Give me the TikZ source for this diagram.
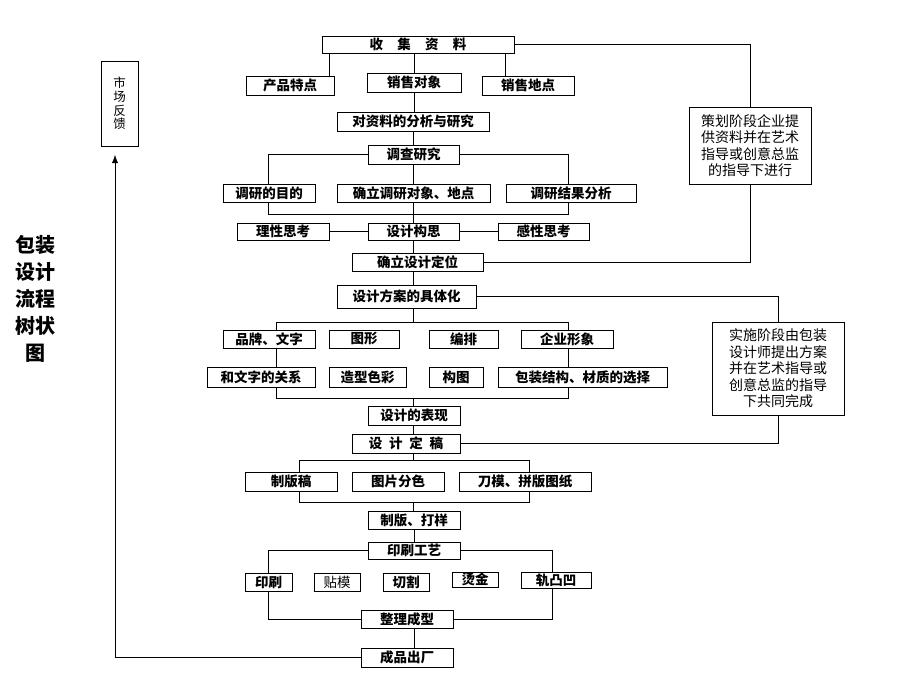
\documentclass[tikz,border=0pt]{standalone}
\usepackage{fontspec}
\setmainfont{Noto Sans CJK SC}
\usetikzlibrary{arrows.meta,backgrounds}

\begin{document}
\begin{tikzpicture}[x=1pt, y=-1pt, line width=0.8pt,
  box/.style={draw, fill=white, inner sep=0pt, minimum width=92, minimum height=19,
    font=\bfseries\fontsize{13.5}{15}\selectfont},
  note/.style={draw, fill=white, inner sep=0pt, align=center,
    font=\fontsize{14}{16.5}\selectfont}]

  \useasboundingbox (0,0) rectangle (920,690);

  \node [font=\bfseries\fontsize{20}{27}\selectfont, align=center] (title) at (35,299) {包装\\设计\\流程\\树状\\图};
  \node [draw, minimum width=37, minimum height=85, inner sep=0pt, align=center,
    font=\fontsize{12.5}{13.8}\selectfont] (market) at (119.5,103.5) {市\\场\\反\\馈};

  % collecting
  \node [box, minimum width=192, minimum height=17] (collect) at (418,44.5) {收\hspace{1.05em}集\hspace{1.05em}资\hspace{1.05em}料};
  \node [box, minimum width=88] (pk) at (290,85.5) {产品特点};
  \node [box, minimum width=94] (target) at (414,82.5) {销售对象};
  \node [box] (place) at (528,85.5) {销售地点};
  \node [box, minimum width=152] (analyse) at (413,121.5) {对资料的分析与研究};
  \node [note, minimum width=122, minimum height=77] (plan) at (750,145.5) {策划阶段企业提\\供资料并在艺术\\指导或创意总监\\的指导下进行};

  % survey
  \node [box, minimum width=91] (survey) at (413.5,154.5) {调查研究};
  \node [box, minimum height=18] (aim) at (269,193) {调研的目的};
  \node [box, minimum width=153, minimum height=18] (object) at (413.5,193) {确立调研对象、地点};
  \node [box, minimum width=130, minimum height=18] (result) at (571,193) {调研结果分析};
  \node [box, minimum width=91, minimum height=17] (concept) at (413.5,231.5) {设计构思};
  \node [box, minimum height=17] (rational) at (283,231.5) {理性思考};
  \node [box, minimum width=91, minimum height=17] (emotion) at (543.5,231.5) {感性思考};
  \node [box, minimum width=131, minimum height=18] (position) at (417.5,262) {确立设计定位};

  % design
  \node [box, minimum width=139, minimum height=23] (detail) at (406.5,296.5) {设计方案的具体化};
  \node [box, minimum height=18] (brand) at (269,339) {品牌、文字};
  \node [box, minimum width=70, minimum height=18] (graph) at (364,339) {图形};
  \node [box, minimum width=69, minimum height=18] (arrange) at (463.5,339) {编排};
  \node [box, minimum height=18] (corp) at (567,339) {企业形象};
  \node [box, minimum width=108, minimum height=20] (relation) at (261,377) {和文字的关系};
  \node [box, minimum width=77, minimum height=20] (colour) at (367.5,377) {造型色彩};
  \node [box, minimum width=54, minimum height=20] (compose) at (456,377) {构图};
  \node [box, minimum width=169, minimum height=20] (struct) at (582.5,377) {包装结构、材质的选择};
  \node [box] (perform) at (414,415.5) {设计的表现};
  \node [box, minimum width=108] (final) at (406,443.5) {设\hspace{0.5em}计\hspace{0.5em}定\hspace{0.5em}稿};
  \node [note, minimum width=132, minimum height=93] (implement) at (778,368.5) {实施阶段由包装\\设计师提出方案\\并在艺术指导或\\创意总监的指导\\下共同完成};

  % production
  \node [box] (plate) at (291,481.5) {制版稿};
  \node [box] (separate) at (398,481.5) {图片分色};
  \node [box, minimum width=132] (die) at (525,481.5) {刀模、拼版图纸};
  \node [box, minimum height=18] (proof) at (414,520) {制版、打样};
  \node [box, minimum height=17] (print) at (414,550.5) {印刷工艺};
  \node [box, minimum width=47, minimum height=18] (p1) at (268.5,582) {印刷};
  \node [box, minimum width=46, minimum height=18, font=\fontsize{13.5}{15}\selectfont] (p2) at (337,582) {贴模};
  \node [box, minimum width=46, minimum height=18] (p3) at (406,582) {切割};
  \node [box, minimum width=46, minimum height=15] (p4) at (475,579.5) {烫金};
  \node [box, minimum width=70, minimum height=16] (p5) at (556,580) {轨凸凹};
  \node [box, minimum height=18] (finish) at (407,619) {整理成型};
  \node [box] (ship) at (407,657.5) {成品出厂};

  \coordinate (k1) at (329,0);
  \coordinate (k2) at (505,0);
  \coordinate (s1) at (268,0);
  \coordinate (s2) at (568,0);
  \coordinate (d1) at (276,322);
  \coordinate (d2) at (568,398);
  \coordinate (f1) at (299,460);
  \coordinate (f2) at (529,502);
  \coordinate (g1) at (268,0);
  \coordinate (g2) at (552,0);
  \coordinate (fb) at (115,155);

  \begin{scope}[on background layer]
  \draw (k1 |- collect.south) -- (k1 |- pk.north);
  \draw (target.north) -- (target.north |- collect.south);
  \draw (k2 |- collect.south) -- (k2 |- place.north);
  \draw (target.south) -- (target.south |- analyse.north);
  \draw (analyse.south) -- (analyse.south |- survey.north);
  \draw (collect.east) -| (plan.north);
  \draw (plan.south) |- (position.east);

  \draw (survey.west) -| (s1 |- aim.north);
  \draw (survey.east) -| (s2 |- result.north);
  \draw (survey.south) -- (object.north);
  \draw (s1 |- aim.south) -- ++(0,12) -| (s2 |- result.south);
  \draw (object.south) -- (concept.north);
  \draw (rational) -- (concept);
  \draw (concept) -- (emotion);
  \draw (concept.south) -- (concept.south |- position.north);
  \draw (concept.south |- position.south) -- (concept.south |- detail.north);

  \draw (detail.east) -| (implement.north);
  \draw (implement.south) |- (final.east);
  \draw (concept.south |- detail.south) -- (concept.south |- d1);
  \draw (d1) rectangle (d2);
  \draw (concept.south |- d2) -- (concept.south |- perform.north);
  \draw (concept.south |- perform.south) -- (concept.south |- final.north);

  \draw (concept.south |- final.south) -- (concept.south |- f1);
  \draw (f1 |- plate.north) -- (f1) -| (f2 |- die.north);
  \draw (f1 |- plate.south) |- (f2) -- (f2 |- die.south);
  \draw (concept.south |- f2) -- (concept.south |- proof.north);
  \draw (proof.south) -- (proof.south |- print.north);
  \draw (print.west) -| (g1 |- p1.north);
  \draw (print.east) -| (g2 |- p5.north);
  \draw (g1 |- p1.south) |- (finish.west);
  \draw (g2 |- p5.south) |- (finish.east);
  \draw (proof.south |- finish.south) -- (proof.south |- ship.north);
  \draw [-{Latex[length=8pt,width=6pt]}] (ship.west) -| (fb);
  \end{scope}
\end{tikzpicture}
\end{document}
